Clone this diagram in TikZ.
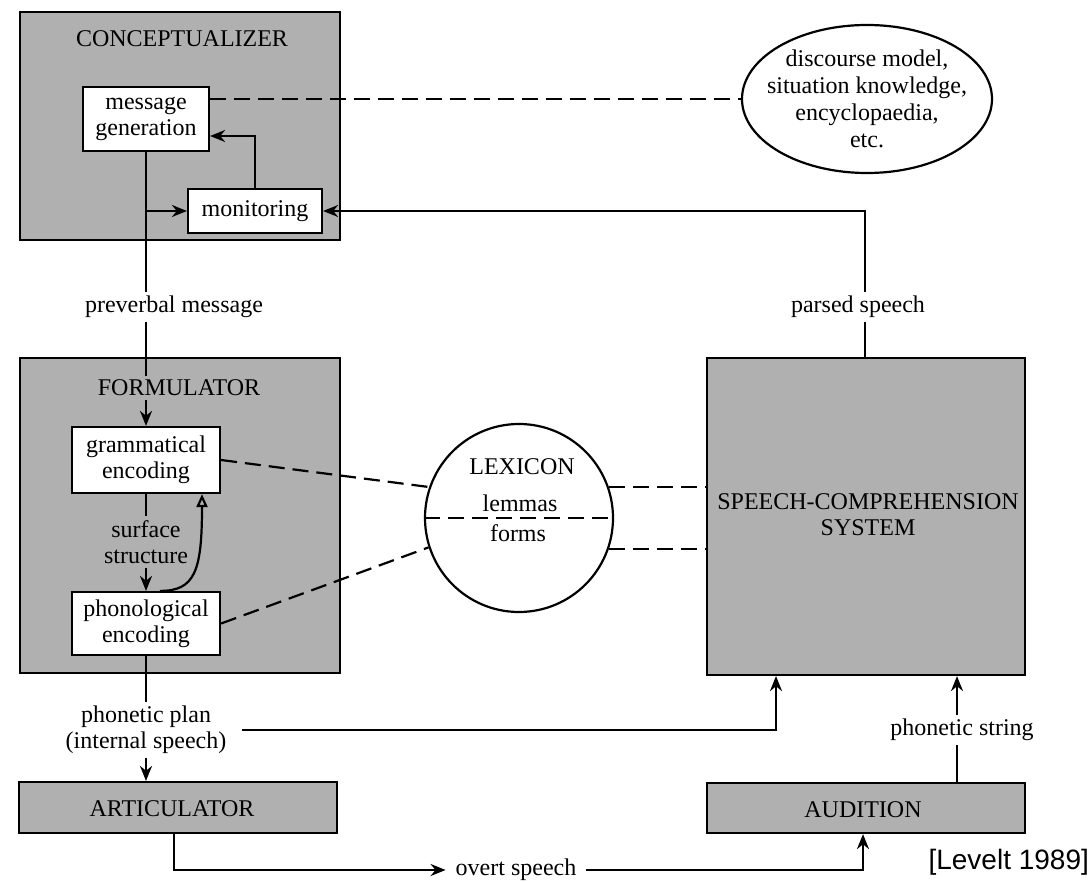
\documentclass[tikz,border=0pt]{standalone}
\usepackage{fontspec}
\setmainfont{Liberation Serif}
\newfontfamily\levfont{Liberation Sans}
\usetikzlibrary{arrows.meta,shapes.geometric}
\definecolor{boxgray}{RGB}{176,176,176}
\begin{document}
\begin{tikzpicture}[x=1pt,y=-1pt,
  font=\fontsize{24}{26}\selectfont, line width=2.2pt,
  bigbox/.style={draw, fill=boxgray, line width=2.2pt, inner sep=0pt},
  wbox/.style={draw, fill=white, align=center, inner sep=0pt},
  lbl/.style={align=center, inner sep=3pt},
  arr/.style={-{Stealth[length=15pt,width=12pt]}},
  dsh/.style={dash pattern=on 16pt off 8pt}]
\useasboundingbox (0,0) rectangle (1092,882);
% boxes
\node[bigbox, minimum width=320pt, minimum height=228pt] (conc) at (180,126) {};
\node[bigbox, minimum width=320pt, minimum height=315pt] (form) at (180,515.5) {};
\node[bigbox, minimum width=318pt, minimum height=317pt] (scs) at (866,516.5) {};
\node[bigbox, minimum width=318pt, minimum height=51pt] (artic) at (178,807.5) {};
\node[bigbox, minimum width=318pt, minimum height=50pt] (aud) at (866,808) {};
\node[wbox, minimum width=126pt, minimum height=64pt] (msg) at (146,119) {message\\generation};
\node[wbox, minimum width=134pt, minimum height=44pt] (mon) at (255,211) {monitoring};
\node[wbox, minimum width=148pt, minimum height=66pt] (gram) at (146,460) {grammatical\\encoding};
\node[wbox, minimum width=148pt, minimum height=63pt] (phon) at (146,623.5) {phonological\\encoding};
\node[ellipse, draw, minimum width=250pt, minimum height=148pt, inner sep=0pt] (ell) at (867,99) {};
\node[circle, draw, minimum size=188pt, inner sep=0pt] (lex) at (519,518) {};
% titles and texts
\node (conct) at (182,39) {CONCEPTUALIZER};
\node (formt) at (179,388) {FORMULATOR};
\node[align=center] (scst) at (868,515) {SPEECH-COMPREHENSION\\SYSTEM};
\node (artict) at (172,809) {ARTICULATOR};
\node (audt) at (863,810) {AUDITION};
\node[align=center, font=\fontsize{24}{27}\selectfont] (ellt) at (ell.center) {discourse model,\\situation knowledge,\\encyclopaedia,\\etc.};
\node (lext) at (522,467) {LEXICON};
\node (lemt) at (520,503) {lemmas};
\node (formst) at (518,533) {forms};
% labels
\node[lbl] (pv) at (174,307) {preverbal message};
\node[lbl] (ps) at (858,307) {parsed speech};
\node[lbl] (ss) at (146,542) {surface\\structure};
\node[lbl] (pp) at (146,730) {phonetic plan\\(internal speech)};
\node[lbl] (pstr) at (962,730) {phonetic string};
\node[lbl, inner sep=9pt] (os) at (516,870) {overt speech};
\node[anchor=east, inner sep=0pt, font=\levfont\fontsize{28}{30}\selectfont] (lev) at (1090,862) {[Levelt 1989]};
% helper coordinates
\coordinate (fx) at (865,0);
\coordinate (sx) at (957,0);
\coordinate (px) at (776,0);
% connectors
\draw (msg.south) -- (msg.south |- pv.north);
\draw (msg.south |- pv.south) -- (msg.south |- formt.north);
\draw[arr] (msg.south |- formt.south) -- (gram.north);
\draw[arr] (msg.south |- mon.west) -- (mon.west);
\draw[arr] (mon.north) |- ([yshift=-17pt]msg.east);
\draw[dsh] (msg.east |- ell.west) -- (ell.west);
\draw (fx |- scs.north) -- (fx |- ps.south);
\draw[arr] (fx |- ps.north) |- (mon.east);
\draw (gram.south) -- (gram.south |- ss.north);
\draw[arr] (gram.south |- ss.south) -- (phon.north);
\draw[-{Triangle[open,length=13pt,width=11pt]}] ([xshift=14pt]phon.north) .. controls +(35pt,0pt) and +(0pt,-77pt) .. ([xshift=56pt]gram.south);
\draw[dsh] (gram.east) -- (lex.161);
\draw[dsh] (phon.east) -- (lex.198);
\draw[dsh] (lex.19) -- (lex.19 -| scs.west);
\draw[dsh] (lex.-19) -- (lex.-19 -| scs.west);
\draw[dsh] (lex.west) -- (lex.east);
\draw (phon.south) -- (phon.south |- pp.north);
\draw[arr] (phon.south |- pp.south) -- (phon.south |- artic.north);
\draw[arr] ([xshift=12pt]pp.east) -| (px |- scs.south);
\draw (sx |- aud.north) -- (sx |- pstr.south);
\draw[arr] (sx |- pstr.north) -- (sx |- scs.south);
\draw[arr] ([xshift=-4pt]artic.south) |- (os.west);
\draw[arr] (os.east) -| ([xshift=-3pt]aud.south);
\end{tikzpicture}
\end{document}
